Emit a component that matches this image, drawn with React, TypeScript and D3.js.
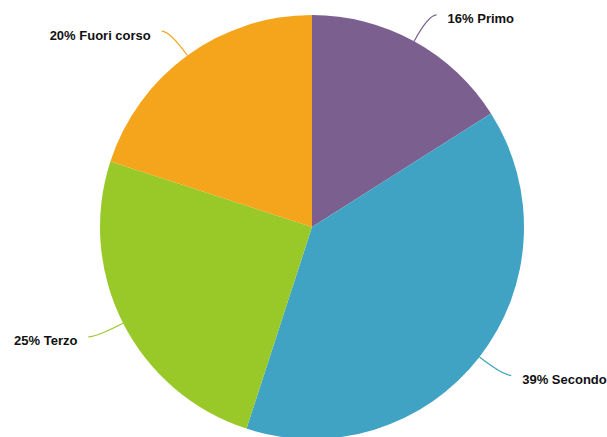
import React from "react";
import * as d3 from "d3";

const categories = ["Primo", "Secondo", "Terzo", "Fuori corso"];
const values = [16, 39, 25, 20];
const colors = ["#7b5f8f", "#41a3c3", "#98c928", "#f5a51b"];

const W = 607;
const H = 437;
const cx = 312;
const cy = 227;
const R = 212;

export default function App() {
  const data = categories.map((c, i) => ({ name: c, value: values[i], color: colors[i] }));
  const pie = d3.pie<any>().sort(null).value((d: any) => d.value);
  const arcs = pie(data);
  const arcGen = d3.arc<any>().innerRadius(0).outerRadius(R);
  const total = d3.sum(values);

  const pt = (a: number, r: number): [number, number] => [Math.sin(a) * r, -Math.cos(a) * r];

  return (
    <svg width={W} height={H} style={{ position: "absolute", left: 0, top: 0 }}>
      <g transform={`translate(${cx},${cy})`}>
        {arcs.map((a, i) => (
          <path key={i} d={arcGen(a) as string} fill={a.data.color} />
        ))}
        {arcs.map((a, i) => {
          const mid = (a.startAngle + a.endAngle) / 2;
          const right = Math.sin(mid) >= 0;
          const s = pt(mid, R);
          const c = pt(mid, R + 30);
          const e: [number, number] = [c[0] + (right ? 8 : -8), c[1]];
          const tx = c[0] + (right ? 19 : -19);
          const ty = c[1] + 8.5;
          const pct = Math.round((a.data.value / total) * 100);
          return (
            <g key={"l" + i}>
              <path
                d={`M${s[0]},${s[1]}Q${c[0]},${c[1]} ${e[0]},${e[1]}`}
                fill="none"
                stroke={a.data.color}
                strokeWidth={1.2}
              />
              <text
                x={tx}
                y={ty}
                textAnchor={right ? "start" : "end"}
                fontFamily="'Liberation Sans', Arial, sans-serif"
                fontWeight="bold"
                fontSize={13}
                fill="#111"
              >
                {`${pct}% ${a.data.name}`}
              </text>
            </g>
          );
        })}
      </g>
    </svg>
  );
}
